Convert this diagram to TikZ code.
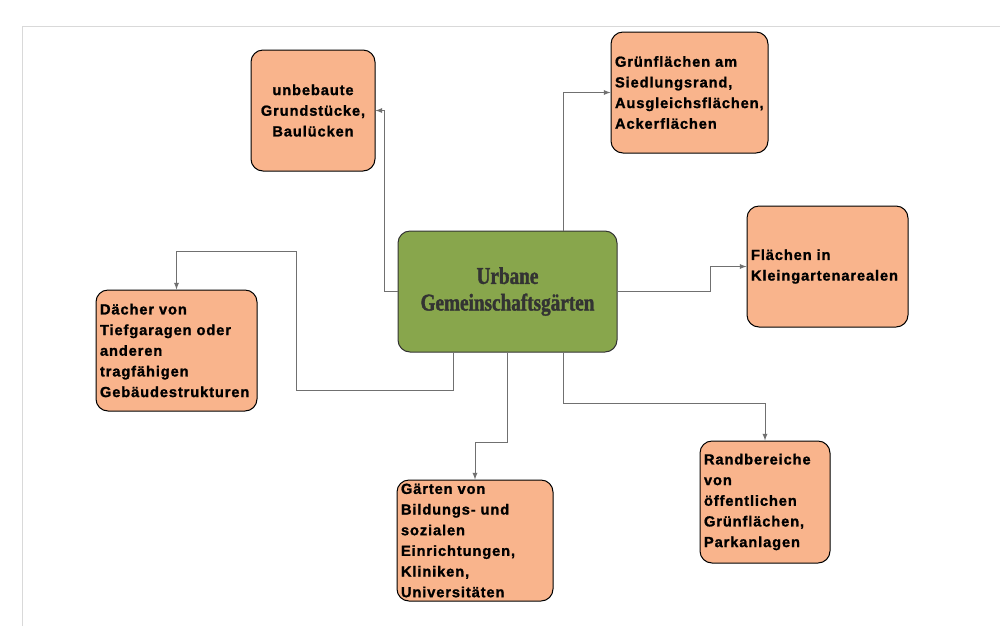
\documentclass[tikz,border=0pt]{standalone}
\usepackage{fontspec}
\setmainfont{Liberation Sans}
\newfontfamily\boxfont[LetterSpace=6,BoldFeatures={FakeBold=1.2}]{Liberation Sans}
\newfontfamily\titlefont[FakeStretch=0.8,BoldFeatures={FakeBold=1.5}]{Liberation Serif}
\usepackage{tikz}
\usetikzlibrary{calc,               % Calculs de coordonnées entre $ $
                positioning}
\definecolor{lachs}{RGB}{249,180,140}
\definecolor{gruen}{RGB}{136,166,76}
\definecolor{titel}{RGB}{51,51,51}
\definecolor{linie}{RGB}{112,112,112}
\definecolor{rahmen}{RGB}{217,217,217}
\tikzset{
  feld/.style={draw=black, line width=0.75pt, fill=lachs, rounded corners=9pt,
               minimum height=90.75pt, inner xsep=3pt, inner ysep=0pt,
               align=left, font=\boxfont\bfseries\fontsize{11}{15.5}\selectfont},
  pfeil/.style={draw=linie, line width=0.75pt, -latex},
}
\begin{document}
\begin{tikzpicture}[x=0.75pt,y=-0.75pt]
\useasboundingbox (0,0) rectangle (1000,626);
\draw[rahmen, line width=0.75pt](22,626)--(22,26)--(1000,26);
% Mitte
\node[draw=titel, line width=0.75pt, fill=gruen, rounded corners=9pt,
      minimum width=164.25pt, minimum height=90.75pt, align=center,
      text=titel, font=\titlefont\bfseries\fontsize{18}{20}\selectfont]
      (urb) at (507.5,291.5) {Urbane\\Gemeinschaftsgärten};
% Flächen
\node[feld, text width=87pt, align=center](bau) at (313,110.5)
      {unbebaute\\Grundstücke,\\Baulücken};
\node[feld, text width=111.75pt](sied) at (689.5,92.5)
      {Grünflächen am\\Siedlungsrand,\\Ausgleichsflächen,\\Ackerflächen};
\node[feld, text width=114.75pt](klein) at (827.5,266.5)
      {Flächen in\\Kleingartenarealen};
\node[feld, text width=114.75pt](dach) at (176.5,350.5)
      {Dächer von\\Tiefgaragen oder\\anderen\\tragfähigen\\Gebäudestrukturen};
\node[feld, text width=111pt](bild) at (475,540.5)
      {Gärten von\\Bildungs- und\\sozialen\\Einrichtungen,\\Kliniken,\\Universitäten};
\node[feld, text width=91.5pt, minimum height=91.5pt](park) at (765,502)
      {Randbereiche\\von\\öffentlichen\\Grünflächen,\\Parkanlagen};
% Verbindungen
\draw[pfeil](urb.west)--++(-13,0)|-(bau.east);
\draw[pfeil]($(urb.north)+(55.5,0)$)|-(sied.west);
\draw[pfeil](urb.east)--++(93,0)|-(klein.west);
\draw[pfeil]($(urb.south)+(-54.5,0)$)|-++(-157,38)|-($(dach.north)+(0,-38)$)--(dach.north);
\draw[pfeil](urb.south)--++(0,90)-|(bild.north);
\draw[pfeil]($(urb.south)+(55.5,0)$)--++(0,51)-|(park.north);
\end{tikzpicture}
\end{document}
